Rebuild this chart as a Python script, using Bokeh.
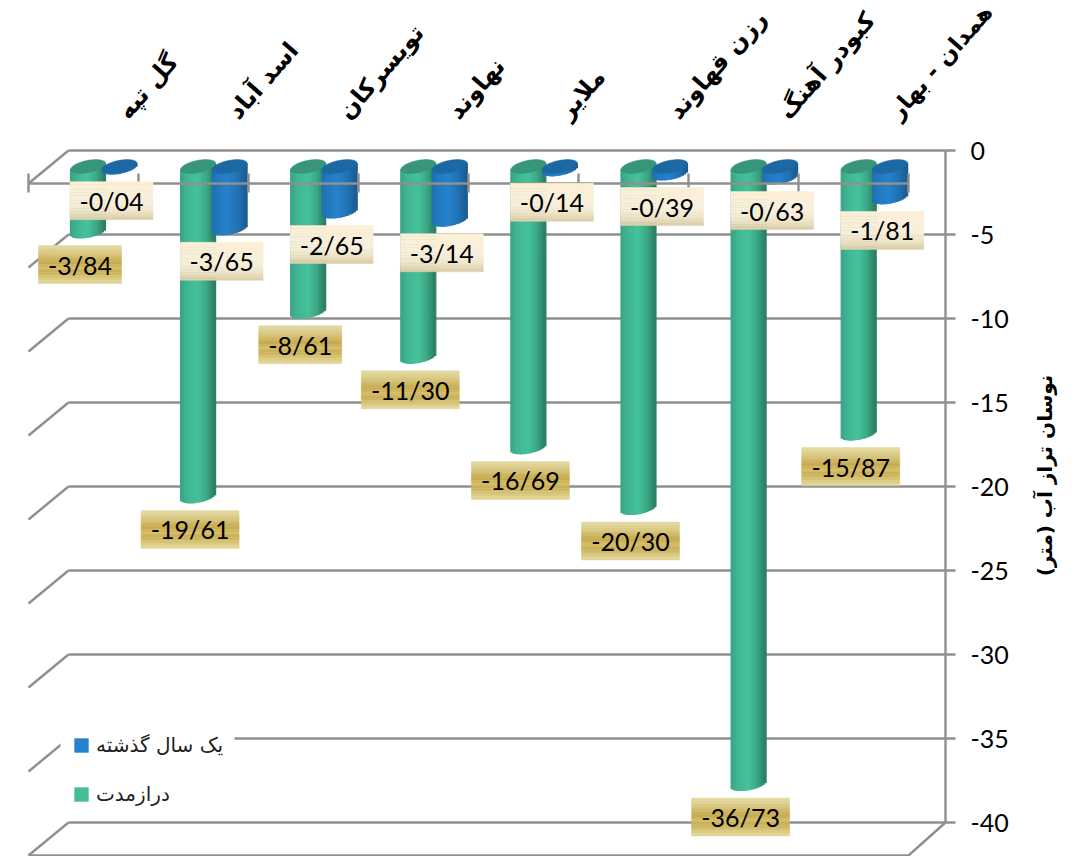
import math
from bokeh.core.properties import value
from bokeh.embed import file_html
from bokeh.models import FixedTicker, Legend, LegendItem, Range1d
from bokeh.plotting import figure
from bokeh.resources import INLINE

categories = ["گل تپه", "اسد آباد", "تویسرکان", "نهاوند", "ملایر", "رزن قهاوند", "کبودر آهنگ", "همدان - بهار"]
long_term = [-3.84, -19.61, -8.61, -11.30, -16.69, -20.30, -36.73, -15.87]
last_year = [-0.04, -3.65, -2.65, -3.14, -0.14, -0.39, -0.63, -1.81]
y_ticks = [0, -5, -10, -15, -20, -25, -30, -35, -40]
series_names = ["یک سال گذشته", "درازمدت"]
axis_title = "نوسان تراز آب (متر)"

W, H = 1081, 856
PX_PER_CAT, X0 = 110.1, 87.5
PX_PER_UNIT, Y0 = 16.8, 150.0
GRAY = "#8f8f8f"
FONT = "Lato"
AR_FONT = "DejaVu Sans"


def dx(px):
    return (px - X0) / PX_PER_CAT


def dy(px):
    return (Y0 - px) / PX_PER_UNIT


def mix(stops, t):
    for (t0, c0), (t1, c1) in zip(stops, stops[1:]):
        if t <= t1:
            f = (t - t0) / (t1 - t0)
            a = [int(c0[i:i + 2], 16) for i in (1, 3, 5)]
            b = [int(c1[i:i + 2], 16) for i in (1, 3, 5)]
            return "#%02x%02x%02x" % tuple(round(p + (q - p) * f) for p, q in zip(a, b))
    return stops[-1][1]


p = figure(width=W, height=H, output_backend="svg", toolbar_location=None,
           x_range=Range1d(dx(0), dx(W)), y_range=Range1d(dy(H), dy(0)),
           y_axis_location="right", x_axis_location=None,
           min_border=0, min_border_left=0, min_border_right=0, min_border_top=0, min_border_bottom=0,
           outline_line_color=None, background_fill_color="white")
p.grid.visible = False

# walls: back wall, side wall and floor
BACK_L, BACK_R, FRONT_L, DEPTH, FLOOR_Y = 68, 945, 28, 33, 855
grid_src = dict(
    x0=[dx(BACK_L)] * len(y_ticks), x1=[dx(BACK_R)] * len(y_ticks),
    y0=y_ticks, y1=y_ticks)
p.segment("x0", "y0", "x1", "y1", source=grid_src, line_color=GRAY, line_width=2.4)
side = dict(x0=[dx(BACK_L)] * len(y_ticks), x1=[dx(FRONT_L)] * len(y_ticks),
            y0=y_ticks, y1=[t - DEPTH / PX_PER_UNIT for t in y_ticks])
p.segment("x0", "y0", "x1", "y1", source=side, line_color=GRAY, line_width=2.4)
bottom = y_ticks[-1]
p.line([dx(28), dx(908), dx(945)], [dy(FLOOR_Y), dy(FLOOR_Y), bottom], line_color=GRAY, line_width=2.4)

# white ground of the legend, which hides the walls behind it
p.quad(left=[dx(60)], right=[dx(234)], top=[dy(727)], bottom=[dy(812)], fill_color="white", line_color=None)

GREEN = [(0, "#38a384"), (0.2, "#40b592"), (0.5, "#46c29b"), (0.75, "#3ba986"), (1, "#2b7a62")]
BLUE = [(0, "#1f70b0"), (0.2, "#2379bf"), (0.45, "#2682cc"), (0.75, "#2272b3"), (1, "#1a5a90")]
CAP_OFF, A, B, TILT, N = 16.0, 17.5, 6.2, 0.18, 18


def cylinders(values, offset, stops, cap_color):
    l, r, t, b, c = [], [], [], [], []
    cx, cy = [], []
    for i, v in enumerate(values):
        centre = i + offset / PX_PER_CAT
        capv = -CAP_OFF / PX_PER_UNIT
        for j in range(N):
            u0 = -A + 2 * A * j / N
            u1 = u0 + 2 * A / N
            um = (u0 + u1) / 2
            arc = -TILT * um + B * math.sqrt(max(0, 1 - (um / A) ** 2))
            l.append(centre + u0 / PX_PER_CAT)
            r.append(centre + u1 / PX_PER_CAT)
            t.append(capv + TILT * um / PX_PER_UNIT)
            b.append(v + capv - arc / PX_PER_UNIT)
            c.append(mix(stops, (j + 0.5) / N))
        xs, ys = [], []
        for k in range(48):
            s = 2 * math.pi * k / 48
            ux = A * math.cos(s)
            xs.append(centre + ux / PX_PER_CAT)
            ys.append(capv + (TILT * ux + B * math.sin(s)) / PX_PER_UNIT)
        cx.append(xs)
        cy.append(ys)
    p.quad(left=l, right=r, top=t, bottom=b, fill_color=c, line_color=c, line_width=1.2)
    p.patches(cx, cy, fill_color=cap_color, line_color=cap_color, line_width=0.5)


cylinders(long_term, 0, GREEN, "#36957a")
cylinders(last_year, 31.5, BLUE, "#1c68a2")

# front edge of the category axis, over the bars
front_y = -DEPTH / PX_PER_UNIT
tick_px = [FRONT_L + 110 * k for k in range(len(categories) + 1)]
p.line([dx(FRONT_L), dx(tick_px[-1])], [front_y, front_y], line_color=GRAY, line_width=2.4)
p.segment([dx(x) for x in tick_px], [dy(173)] * len(tick_px), [dx(x) for x in tick_px], [dy(192)] * len(tick_px),
          line_color=GRAY, line_width=2.4)

# category names
label_sizes = ["24px"] * 7 + ["23px"]
p.text([i + dx(122) - dx(X0) for i in range(len(categories))], [dy(115)] * len(categories), text=categories,
       angle=0.85, text_font=value(AR_FONT), text_font_style="bold", text_font_size=label_sizes,
       text_align="left", text_baseline="middle", text_color="black")

# value labels
CREAM = [(0, "#fdefd4"), (0.55, "#f7efdc"), (0.78, "#eee5c9"), (1, "#d8cca6")]
GOLD = [(0, "#e5dca6"), (0.25, "#d6c47b"), (0.45, "#c6a94b"), (0.6, "#d5be68"), (0.7, "#c9ae55"), (0.85, "#d8c67a"), (1, "#e4daa0")]
BOX_H, LABEL_DOWN, LABEL_LEFT, ROWS = 38.0, 33.5, 8.0, 14


def value_labels(values, offset, stops, box_w):
    l, r, t, b, c = [], [], [], [], []
    tx, ty, ts = [], [], []
    for i, v in enumerate(values):
        cxv = i + (offset - LABEL_LEFT) / PX_PER_CAT
        cyv = v - (CAP_OFF + LABEL_DOWN) / PX_PER_UNIT
        w = box_w(v)
        for j in range(ROWS):
            l.append(cxv - w / 2 / PX_PER_CAT)
            r.append(cxv + w / 2 / PX_PER_CAT)
            t.append(cyv + (BOX_H / 2 - BOX_H * j / ROWS) / PX_PER_UNIT)
            b.append(cyv + (BOX_H / 2 - BOX_H * (j + 1) / ROWS) / PX_PER_UNIT)
            c.append(mix(stops, (j + 0.5) / ROWS))
        tx.append(cxv)
        ty.append(cyv)
        ts.append(f"{v:.2f}".replace(".", "/"))
    p.quad(left=l, right=r, top=t, bottom=b, fill_color=c, line_color=c, line_width=0.5)
    p.text(tx, ty, text=ts, text_font=value(FONT), text_font_size="25px", text_align="center",
           text_baseline="middle", text_color="black")


value_labels(long_term, 0, GOLD, lambda v: 98 if v <= -10 else 83)
value_labels(last_year, 31.5, CREAM, lambda v: 83)

# rotated value-axis title
p.text([dx(1044)], [dy(475)], text=[axis_title], angle=math.pi / 2, text_font=value(AR_FONT),
       text_font_style="bold", text_font_size="20px", text_align="center", text_baseline="middle",
       text_color="black")

# legend
off = dx(-50)
r_blue = p.quad(left=[off], right=[off], top=[0], bottom=[0], fill_color="#2682cc", line_color=None)
r_green = p.quad(left=[off], right=[off], top=[0], bottom=[0], fill_color="#46bd99", line_color=None)
legend = Legend(items=[LegendItem(label=series_names[0], renderers=[r_blue]),
                       LegendItem(label=series_names[1], renderers=[r_green])],
                location=(60, 50), orientation="vertical", glyph_width=18, glyph_height=18,
                spacing=25, padding=12, label_standoff=6, margin=0,
                label_text_font=AR_FONT, label_text_font_size="20px", label_text_color="#222222",
                background_fill_alpha=0, border_line_color=None)
legend.location = (72, 50)
p.add_layout(legend)

# value axis fixed on the back wall's right edge
ax = p.yaxis[0]
ax.fixed_location = dx(BACK_R)
ax.ticker = FixedTicker(ticks=y_ticks)
ax.major_label_overrides = {t: str(t) for t in y_ticks}
ax.bounds = (y_ticks[-1], y_ticks[0])
ax.axis_line_color = GRAY
ax.axis_line_width = 2.4
ax.major_tick_line_color = GRAY
ax.major_tick_line_width = 2.4
ax.major_tick_in = 0
ax.major_tick_out = 10
ax.minor_tick_line_color = None
ax.major_label_standoff = 15
ax.major_label_text_font = FONT
ax.major_label_text_font_size = "25px"
ax.major_label_text_color = "black"

open("out.html", "w").write(file_html(p, INLINE))
